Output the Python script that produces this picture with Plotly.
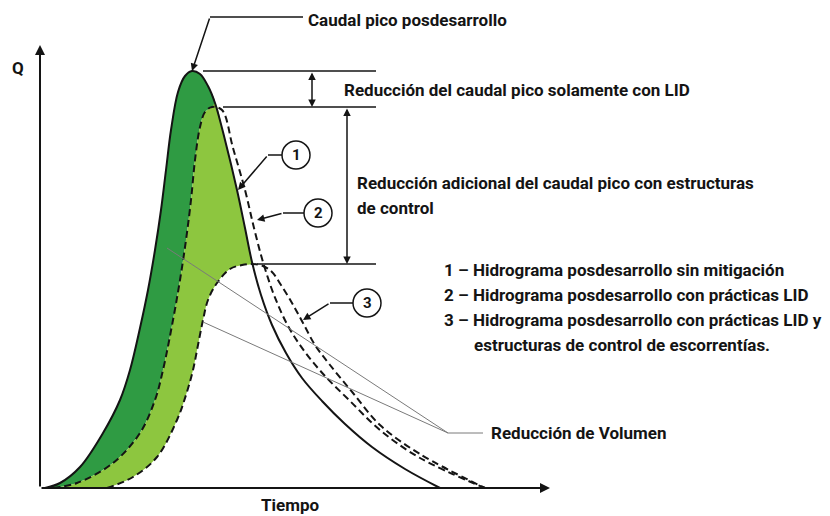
import plotly.graph_objects as go

# hidrogramas esquemáticos (tiempo, caudal)
t_pos_sube = [5, 20, 40, 63, 80, 90, 100, 108, 115, 121, 126, 131, 138, 145, 152]
q_pos_sube = [0, 5, 21, 55, 88, 118, 160, 198, 238, 278, 318, 358, 396, 412, 417]
t_pos_baja = [160, 168, 175, 185, 197, 205, 212, 221, 232, 246, 262, 282, 305, 332, 365, 400]
q_pos_baja = [414, 402, 385, 348, 298, 260, 226, 193, 163, 135, 110, 87, 64, 41, 19, 0]

t_lid_sube = [13, 37, 73, 100, 115, 123, 133, 140, 146, 151, 155, 160, 165, 172]
q_lid_sube = [0, 5, 25, 55, 88, 118, 168, 208, 248, 288, 328, 361, 376, 381]
t_lid_baja = [182, 193, 205, 214, 223, 234, 248, 265, 285, 310, 340, 380, 445]
q_lid_baja = [378, 340, 298, 260, 226, 193, 162, 136, 112, 87, 58, 30, 0]

t_ctrl = [67, 93, 117, 137, 146, 153, 158, 163, 168, 177, 190, 202, 212, 223, 232,
          241, 252, 263, 275, 290, 313, 340, 380, 445]
q_ctrl = [0, 11, 31, 68, 93, 118, 143, 168, 188, 205, 219, 223, 224, 222, 216,
          203, 185, 165, 143, 123, 95, 63, 34, 0]

FONT = "Roboto, Liberation Sans, sans-serif"
INK = "#141414"
VERDE_OSC = "#2f9b43"
VERDE_CLA = "#8dc63f"

t_pos = t_pos_sube + t_pos_baja
q_pos = q_pos_sube + q_pos_baja
t_lid = t_lid_sube + t_lid_baja
q_lid = q_lid_sube + q_lid_baja

q1 = max(q_pos)
q2 = max(q_lid)
q3 = max(q_ctrl)
t_pico_lid = t_lid_sube[-1]
t_corte = t_ctrl[q_ctrl.index(q3)]

fig = go.Figure()

# zona verde oscura: entre hidrograma sin mitigación y con LID
bx = t_pos_sube + [t for t in t_pos_baja if t <= t_pico_lid + 3] + t_lid_sube[::-1]
by = q_pos_sube + [q for t, q in zip(t_pos_baja, q_pos_baja) if t <= t_pico_lid + 3] + q_lid_sube[::-1]
fig.add_trace(go.Scatter(x=bx, y=by, fill="toself", fillcolor=VERDE_OSC, mode="lines",
                         line=dict(width=0, shape="spline"), hoverinfo="skip"))

# zona verde clara: entre LID y LID + estructuras de control
sel = [(t, q) for t, q in zip(t_pos_baja, q_pos_baja) if t_pico_lid < t <= t_corte]
cx = t_lid_sube + [p[0] for p in sel] + [t for t in t_ctrl if t <= t_corte][::-1]
cy = q_lid_sube + [p[1] for p in sel] + [q for t, q in zip(t_ctrl, q_ctrl) if t <= t_corte][::-1]
fig.add_trace(go.Scatter(x=cx, y=cy, fill="toself", fillcolor=VERDE_CLA, mode="lines",
                         line=dict(width=0, shape="spline"), hoverinfo="skip"))

fig.add_trace(go.Scatter(x=t_ctrl, y=q_ctrl, mode="lines",
                         line=dict(color=INK, width=2, dash="7px,4px", shape="spline")))
fig.add_trace(go.Scatter(x=t_lid, y=q_lid, mode="lines",
                         line=dict(color=INK, width=2, dash="7px,4px", shape="spline")))
fig.add_trace(go.Scatter(x=t_pos, y=q_pos, mode="lines",
                         line=dict(color=INK, width=2, shape="spline")))

shapes = []
# líneas de referencia de los picos
for q, t0 in [(q1, 163), (q2, 183), (q3, 217)]:
    shapes.append(dict(type="line", x0=t0, x1=336, y0=q, y1=q, line=dict(color=INK, width=1.5)))
# líneas grises de reducción de volumen
for x0, y0 in [(127, 240), (163, 166)]:
    shapes.append(dict(type="line", x0=x0, y0=y0, x1=408, y1=55, line=dict(color="#7a7a7a", width=1)))
shapes.append(dict(type="line", x0=408, y0=55, x1=443, y1=55, line=dict(color="#7a7a7a", width=1)))
# tramos horizontales de las llamadas
for x0, x1, y in [(170, 263, 471), (228, 242, 333), (243, 264, 275), (290, 313, 185)]:
    shapes.append(dict(type="line", x0=x0, x1=x1, y0=y, y1=y, line=dict(color=INK, width=1.5)))
# círculos numerados
for tx, qy in [(256, 333), (278, 275), (327, 185)]:
    shapes.append(dict(type="circle", x0=tx - 14, x1=tx + 14, y0=qy - 14, y1=qy + 14,
                       line=dict(color=INK, width=1.5), fillcolor="white"))

ann = []


def flecha(x, y, ax, ay, ancho=1.5, lado="end", cabeza=2):
    ann.append(dict(x=x, y=y, ax=ax, ay=ay, xref="x", yref="y", axref="x", ayref="y",
                    text="", showarrow=True, arrowhead=cabeza, startarrowhead=cabeza,
                    arrowsize=1, startarrowsize=1, arrowwidth=ancho, arrowcolor=INK,
                    arrowside=lado))


# ejes
flecha(0, 443, 0, 0, ancho=2)
flecha(510, 0, 0, 0, ancho=2)
# flechas de reducción del pico
flecha(272, q2, 272, q1, lado="end+start")
flecha(307, q3, 307, q2, lado="end+start")
# llamadas
flecha(t_pos_sube[-1], q1, 170, 471, ancho=1.5)
flecha(198, 298, 228, 333)
flecha(217, 268, 243, 275)
flecha(263, 168, 290, 185)


def texto(x, y, s, size=17, anchor="left"):
    ann.append(dict(x=x, y=y, xref="x", yref="y", text=s, showarrow=False,
                    xanchor=anchor, yanchor="middle",
                    font=dict(family=FONT, size=size, color=INK, weight="bold")))


texto(-22, 420, "Q", anchor="center")
texto(250, -17, "Tiempo", anchor="center")
texto(266, 468, "Caudal pico posdesarrollo")
texto(302, 398, "Reducción del caudal pico solamente con LID")
texto(315, 305, "Reducción adicional del caudal pico con estructuras")
texto(315, 280, "de control")
texto(402, 218, "1 – Hidrograma posdesarrollo sin mitigación")
texto(402, 193, "2 – Hidrograma posdesarrollo con prácticas LID")
texto(402, 168, "3 – Hidrograma posdesarrollo con prácticas LID y")
texto(432, 143, "estructuras de control de escorrentías.")
texto(449, 55, "Reducción de Volumen")
for s, tx, qy in [("1", 256, 333), ("2", 278, 275), ("3", 327, 185)]:
    texto(tx, qy, s, size=15, anchor="center")

# la página deja 8 px de margen: el lienzo se corre para que el eje caiga donde el original
fig.update_layout(
    width=822, height=508,
    margin=dict(l=0, r=0, t=0, b=0),
    paper_bgcolor="white", plot_bgcolor="white",
    showlegend=False,
    shapes=shapes, annotations=ann,
    xaxis=dict(range=[-32, 790], visible=False, fixedrange=True),
    yaxis=dict(range=[-28, 480], visible=False, fixedrange=True),
)

fig.write_html("out.html")
